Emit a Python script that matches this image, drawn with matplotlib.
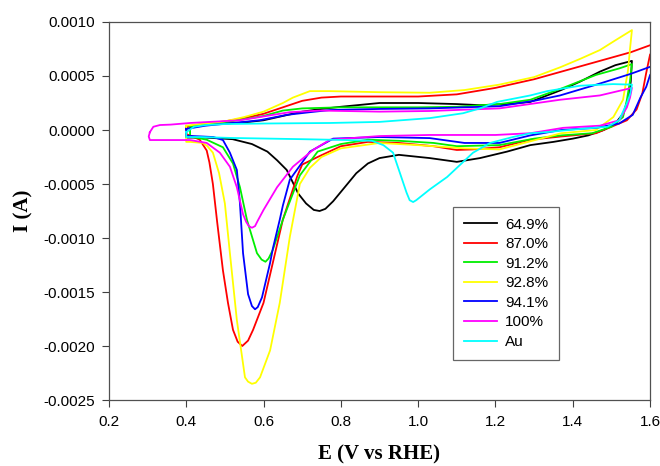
import matplotlib
matplotlib.use("Agg")
import matplotlib.pyplot as plt
import numpy as np

# Cyclic voltammograms, E in V vs RHE, I in mA (converted to A when plotted)
labels = ["64.9%", "87.0%", "91.2%", "92.8%", "94.1%", "100%", "Au"]
colors = ["#000000", "#ff0000", "#00ee00", "#ffff00", "#0000ff", "#ff00ff", "#00ffff"]

# 64.9%
e_black = [0.40, 0.45, 0.50, 0.55, 0.60, 0.65, 0.70, 0.75, 0.80, 0.90, 1.00, 1.10, 1.16, 1.23, 1.29,
           1.37, 1.42, 1.47, 1.51, 1.553,
           1.55, 1.545, 1.53, 1.51, 1.48, 1.44, 1.40, 1.35, 1.29, 1.23, 1.16, 1.10, 1.03, 0.95, 0.90,
           0.87, 0.84, 0.81, 0.78, 0.76, 0.745, 0.73, 0.71, 0.69, 0.675, 0.66, 0.635, 0.61, 0.57,
           0.52, 0.45, 0.40, 0.40]
i_black = [0.03, 0.05, 0.06, 0.07, 0.09, 0.13, 0.17, 0.195, 0.215, 0.25, 0.25, 0.24, 0.23, 0.24, 0.26,
           0.37, 0.45, 0.54, 0.60, 0.64,
           0.45, 0.30, 0.15, 0.06, 0.00, -0.05, -0.08, -0.11, -0.14, -0.20, -0.26, -0.295, -0.26, -0.23, -0.26,
           -0.31, -0.40, -0.53, -0.66, -0.73, -0.75, -0.74, -0.68, -0.59, -0.48, -0.37, -0.28, -0.20, -0.13,
           -0.085, -0.07, -0.07, 0.03]

# 87.0%
e_red = [0.40, 0.45, 0.50, 0.55, 0.60, 0.65, 0.70, 0.75, 0.80, 0.90, 1.00, 1.10, 1.20, 1.30, 1.40,
         1.47, 1.55, 1.60, 1.65,
         1.64, 1.62, 1.60, 1.59, 1.58, 1.565, 1.54, 1.50, 1.46, 1.37, 1.29, 1.21, 1.14, 1.10, 1.04,
         0.95, 0.87, 0.80, 0.74, 0.70, 0.687, 0.65, 0.624, 0.60, 0.573, 0.56, 0.545, 0.533, 0.521,
         0.508, 0.495, 0.48, 0.469, 0.46, 0.453, 0.435, 0.41, 0.40, 0.40]
i_red = [0.03, 0.06, 0.08, 0.11, 0.15, 0.21, 0.27, 0.30, 0.31, 0.31, 0.31, 0.33, 0.39, 0.47, 0.57,
         0.64, 0.72, 0.785, 0.83,
         0.80, 0.75, 0.70, 0.53, 0.34, 0.19, 0.09, 0.03, -0.03, -0.06, -0.09, -0.16, -0.18, -0.185, -0.15,
         -0.12, -0.11, -0.15, -0.25, -0.32, -0.43, -0.83, -1.23, -1.60, -1.85, -1.95, -2.00, -1.96, -1.85,
         -1.60, -1.30, -0.85, -0.50, -0.30, -0.19, -0.09, -0.05, -0.04, 0.03]

# 91.2%
e_green = [0.41, 0.45, 0.50, 0.55, 0.60, 0.65, 0.70, 0.80, 0.90, 1.00, 1.10, 1.21, 1.29, 1.375,
           1.46, 1.52, 1.553,
           1.548, 1.54, 1.53, 1.50, 1.45, 1.37, 1.30, 1.21, 1.10, 1.04, 0.95, 0.87, 0.80, 0.74,
           0.694, 0.65, 0.624, 0.613, 0.605, 0.595, 0.583, 0.557, 0.539, 0.521, 0.495, 0.453, 0.417,
           0.41, 0.41]
i_green = [0.03, 0.05, 0.07, 0.10, 0.13, 0.18, 0.20, 0.21, 0.21, 0.21, 0.215, 0.24, 0.28, 0.39,
           0.51, 0.57, 0.61,
           0.45, 0.28, 0.12, 0.03, -0.03, -0.05, -0.08, -0.14, -0.15, -0.12, -0.10, -0.09, -0.13, -0.20,
           -0.42, -0.83, -1.11, -1.19, -1.22, -1.20, -1.14, -0.83, -0.53, -0.31, -0.16, -0.09, -0.065,
           -0.06, 0.03]

# 92.8%
e_yellow = [0.40, 0.45, 0.50, 0.55, 0.60, 0.65, 0.676, 0.72, 0.77, 0.90, 1.03, 1.12, 1.21, 1.30,
            1.367, 1.42, 1.47, 1.51, 1.553,
            1.548, 1.543, 1.53, 1.505, 1.46, 1.37, 1.21, 1.12, 1.00, 0.90, 0.80, 0.75, 0.72, 0.694,
            0.668, 0.642, 0.617, 0.591, 0.580, 0.570, 0.560, 0.552, 0.531, 0.513, 0.50, 0.485, 0.469,
            0.455, 0.443, 0.41, 0.40, 0.40]
i_yellow = [0.04, 0.06, 0.08, 0.12, 0.17, 0.25, 0.30, 0.36, 0.36, 0.35, 0.345, 0.37, 0.42, 0.49,
            0.58, 0.66, 0.74, 0.83, 0.925,
            0.75, 0.556, 0.28, 0.12, 0.00, -0.03, -0.18, -0.17, -0.14, -0.12, -0.17, -0.25, -0.35, -0.50,
            -0.99, -1.60, -2.04, -2.29, -2.34, -2.35, -2.33, -2.29, -1.76, -1.14, -0.68, -0.40, -0.21,
            -0.15, -0.12, -0.11, -0.11, 0.04]

# 94.1%
e_blue = [0.40, 0.45, 0.521, 0.59, 0.66, 0.72, 0.772, 0.90, 1.03, 1.21, 1.30, 1.367, 1.47, 1.55,
          1.60, 1.65,
          1.62, 1.60, 1.59, 1.575, 1.555, 1.52, 1.46, 1.37, 1.29, 1.21, 1.12, 1.03, 0.90, 0.78, 0.72,
          0.694, 0.668, 0.65, 0.642, 0.624, 0.617, 0.596, 0.585, 0.578, 0.57, 0.56, 0.547, 0.539, 0.531,
          0.513, 0.495, 0.47, 0.417, 0.40, 0.40]
i_blue = [0.01, 0.04, 0.065, 0.09, 0.14, 0.165, 0.185, 0.195, 0.20, 0.22, 0.27, 0.32, 0.43, 0.52,
          0.585, 0.65,
          0.58, 0.51, 0.40, 0.30, 0.14, 0.06, 0.02, 0.00, -0.05, -0.12, -0.12, -0.075, -0.065, -0.08, -0.20,
          -0.33, -0.46, -0.70, -0.83, -1.10, -1.23, -1.55, -1.64, -1.66, -1.63, -1.52, -1.14, -0.68, -0.37,
          -0.21, -0.093, -0.065, -0.056, -0.055, 0.01]

# 100%
e_magenta = [0.306, 0.315, 0.332, 0.36, 0.41, 0.539, 0.624, 0.668, 0.746, 0.90, 1.03, 1.21, 1.367,
             1.47, 1.553,
             1.548, 1.54, 1.52, 1.47, 1.375, 1.29, 1.20, 1.03, 0.90, 0.772, 0.728, 0.676, 0.635, 0.60,
             0.585, 0.578, 0.570, 0.562, 0.555, 0.547, 0.531, 0.513, 0.487, 0.453, 0.41, 0.306, 0.303,
             0.306]
i_magenta = [-0.02, 0.03, 0.046, 0.05, 0.065, 0.09, 0.14, 0.165, 0.18, 0.17, 0.176, 0.20, 0.28,
             0.32, 0.39,
             0.30, 0.21, 0.09, 0.04, 0.02, -0.03, -0.046, -0.046, -0.056, -0.09, -0.185, -0.34, -0.53, -0.74,
             -0.84, -0.89, -0.905, -0.89, -0.85, -0.78, -0.53, -0.34, -0.21, -0.12, -0.093, -0.093, -0.06,
             -0.02]

# Au
e_cyan = [0.40, 0.42, 0.45, 0.50, 0.60, 0.772, 0.90, 1.03, 1.116, 1.16, 1.204, 1.29, 1.334, 1.419,
          1.504, 1.553,
          1.548, 1.54, 1.52, 1.49, 1.42, 1.33, 1.29, 1.245, 1.186, 1.142, 1.075, 1.03, 0.995, 0.987,
          0.978, 0.97, 0.953, 0.935, 0.91, 0.88, 0.816, 0.70, 0.521, 0.435, 0.40, 0.40]
i_cyan = [-0.02, 0.03, 0.046, 0.055, 0.06, 0.065, 0.075, 0.11, 0.155, 0.20, 0.26, 0.32, 0.36, 0.41,
          0.425, 0.42,
          0.33, 0.25, 0.09, 0.03, 0.01, -0.02, -0.03, -0.065, -0.12, -0.21, -0.435, -0.55, -0.65, -0.667,
          -0.65, -0.58, -0.40, -0.21, -0.14, -0.10, -0.093, -0.085, -0.074, -0.065, -0.065, -0.02]

series = [(e_black, i_black), (e_red, i_red), (e_green, i_green), (e_yellow, i_yellow),
          (e_blue, i_blue), (e_magenta, i_magenta), (e_cyan, i_cyan)]

plt.rcParams["font.family"] = ["Liberation Sans", "DejaVu Sans"]
plt.rcParams["axes.unicode_minus"] = False

fig = plt.figure(figsize=(6.6, 4.66), dpi=100)
ax = fig.add_axes([0.165, 0.1416, 0.82, 0.8112])

for (e, i), c, lab in zip(series, colors, labels):
    ax.plot(e, np.array(i) * 1e-3, color=c, lw=1.3, label=lab, solid_joinstyle="round")

ax.set_xlim(0.2, 1.6)
ax.set_ylim(-0.0025, 0.0010)
ax.set_xticks(np.arange(0.2, 1.61, 0.2))
ax.set_yticks(np.arange(-0.0025, 0.00101, 0.0005))
ax.xaxis.set_major_formatter(plt.FormatStrFormatter("%.1f"))
ax.yaxis.set_major_formatter(plt.FormatStrFormatter("%.4f"))
ax.tick_params(direction="out", length=5, width=0.8, color="#404040", labelsize=11)
ax.tick_params(axis="x", pad=6)
ax.tick_params(axis="y", pad=5)
for s in ax.spines.values():
    s.set_color("#505050")
    s.set_linewidth(0.9)

ax.set_xlabel("E (V vs RHE)", family="Liberation Serif", weight="bold", fontsize=15, labelpad=11)
ax.set_ylabel("I (A)", family="Liberation Serif", weight="bold", fontsize=15, labelpad=7)

leg = ax.legend(loc="upper left", bbox_to_anchor=(0.636, 0.511), fontsize=11, frameon=True,
                fancybox=False, shadow=False, labelspacing=0.365, handlelength=2.2,
                handletextpad=0.5, borderpad=0.7, borderaxespad=0)
leg.get_frame().set_edgecolor("#404040")
leg.get_frame().set_linewidth(0.9)

plt.savefig("out.png", dpi=100)
